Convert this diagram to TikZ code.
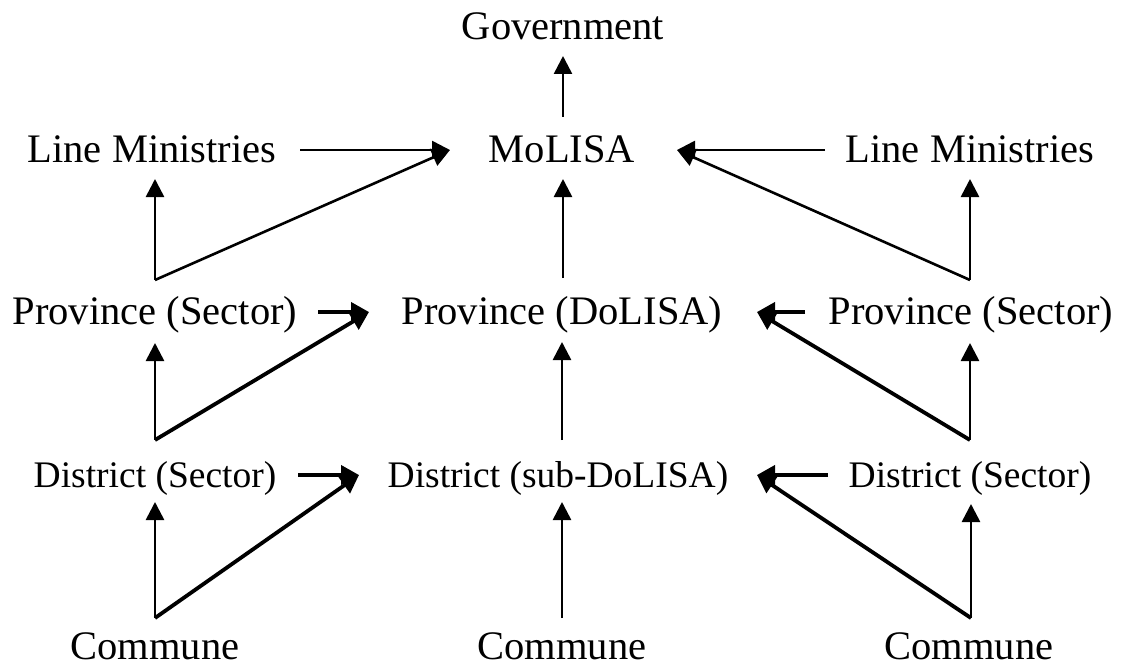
\documentclass[tikz,border=0pt]{standalone}
\usepackage{fontspec}
\setmainfont{Liberation Serif}
\usetikzlibrary{arrows.meta}
\begin{document}
\begin{tikzpicture}[x=1pt,y=-1pt,
  lab/.style={anchor=base,inner sep=0pt,font=\fontsize{40.5}{48}\selectfont},
  smalllab/.style={anchor=base,inner sep=0pt,font=\fontsize{37.5}{44}\selectfont},
  arr/.style={line width=2.6pt,-{Triangle[length=18pt,width=18pt]}},
  thk/.style={line width=3.8pt,-{Triangle[length=18pt,width=19pt]}}]
\useasboundingbox (0,0) rectangle (1125,666);
% nodes
\node[lab] (gov) at (563,40) {Government};
\node[lab] (mol) at (562,163) {MoLISA};
\node[lab] (lmL) at (152,163) {Line Ministries};
\node[lab] (lmR) at (970,163) {Line Ministries};
\node[lab] (pdo) at (562,324) {Province (DoLISA)};
\node[lab] (psL) at (155,324) {Province (Sector)};
\node[lab] (psR) at (971,324) {Province (Sector)};
\node[smalllab] (dsub) at (558,487) {District (sub-DoLISA)};
\node[smalllab] (dsL) at (155,487) {District (Sector)};
\node[smalllab] (dsR) at (970,487) {District (Sector)};
\node[lab,text depth=0pt] (cL) at (155,659) {Commune};
\node[lab,text depth=0pt] (cC) at (562,659) {Commune};
\node[lab,text depth=0pt] (cR) at (969,659) {Commune};
% connector points
\coordinate (tGov) at (563,56);
\coordinate (sMolUp) at (563,117);
\coordinate (tMolL) at (450,150);
\coordinate (tMolR) at (677,150);
\coordinate (sLmL) at (300,150);
\coordinate (sLmR) at (825,150);
\coordinate (tLmL) at (155,179);
\coordinate (tLmR) at (970,179);
\coordinate (jPL) at (155,280);
\coordinate (jPR) at (970,280);
\coordinate (tMolB) at (563,179);
\coordinate (sPdo) at (563,278);
\coordinate (sPsL) at (318,312);
\coordinate (tPdoL) at (369,312);
\coordinate (sPsR) at (805,312);
\coordinate (tPdoR) at (757,312);
\coordinate (tPsL) at (155,343);
\coordinate (tPsR) at (970,343);
\coordinate (jDL) at (155,440);
\coordinate (jDR) at (970,440);
\coordinate (tPdoB) at (562,342);
\coordinate (sDsub) at (562,440);
\coordinate (sDsL) at (298,475);
\coordinate (tDsubL) at (359,475);
\coordinate (sDsR) at (828,475);
\coordinate (tDsubR) at (757,475);
\coordinate (tDsL) at (155,502);
\coordinate (tDsR) at (971,504);
\coordinate (jCL) at (155,618);
\coordinate (jCR) at (971,618);
\coordinate (tDsubB) at (562,502);
\coordinate (sCC) at (562,618);
% connectors
\draw[arr] (sMolUp) -- (tGov);
\draw[arr] (sLmL) -- (tMolL);
\draw[arr] (sLmR) -- (tMolR);
\draw[arr] (jPL) -- (tLmL);
\draw[arr] (jPL) -- (tMolL);
\draw[arr] (jPR) -- (tLmR);
\draw[arr] (jPR) -- (tMolR);
\draw[arr] (sPdo) -- (tMolB);
\draw[thk] (sPsL) -- (tPdoL);
\draw[thk] (sPsR) -- (tPdoR);
\draw[arr] (jDL) -- (tPsL);
\draw[thk] (jDL) -- (tPdoL);
\draw[arr] (jDR) -- (tPsR);
\draw[thk] (jDR) -- (tPdoR);
\draw[arr] (sDsub) -- (tPdoB);
\draw[thk] (sDsL) -- (tDsubL);
\draw[thk] (sDsR) -- (tDsubR);
\draw[arr] (jCL) -- (tDsL);
\draw[thk] (jCL) -- (tDsubL);
\draw[arr] (jCR) -- (tDsR);
\draw[thk] (jCR) -- (tDsubR);
\draw[arr] (sCC) -- (tDsubB);
\end{tikzpicture}
\end{document}
